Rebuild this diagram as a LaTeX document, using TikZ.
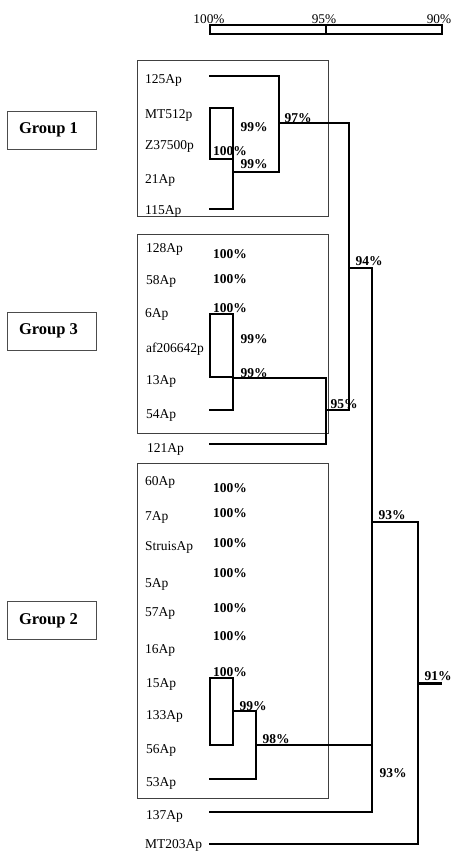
\documentclass[tikz,border=0pt]{standalone}
\usepackage{fontspec}
\setmainfont{Liberation Serif}
\begin{document}
\begin{tikzpicture}[x=1pt,y=-1pt,
  leaf/.style={anchor=base west,inner sep=0pt,font=\fontsize{13.5}{14}\selectfont},
  pct/.style={anchor=base,inner sep=0pt,font=\bfseries\fontsize{13.5}{14}\selectfont},
  sc/.style={anchor=base,inner sep=0pt,font=\fontsize{13.3}{14}\selectfont},
  grp/.style={draw=black!70,line width=0.9pt,minimum width=89pt,minimum height=38pt,inner sep=0pt,font=\bfseries\fontsize{16.5}{17}\selectfont},
  frame/.style={draw=black!75,line width=0.9pt},
  br/.style={line width=2pt,line cap=rect},
]
\useasboundingbox (0,0) rectangle (455,851);

% scale bar
\draw[line width=1.8pt] (210,25) rectangle (442,34);
\draw[line width=1.8pt] (326,25) -- (326,34);
\node[sc] (s100) at (209,23.5) {100\%};
\node[sc] (s95) at (324,23.5) {95\%};
\node[sc] (s90) at (439,23.5) {90\%};

% group label boxes
\node[grp] (g1) at (51.5,130) {\hspace*{-6pt}Group 1};
\node[grp] (g3) at (51.5,331) {\hspace*{-6pt}Group 3};
\node[grp] (g2) at (51.5,620.5) {\hspace*{-6pt}Group 2};

% frames
\draw[frame] (137,60) rectangle (328,216);
\draw[frame] (137,234) rectangle (328,433);
\draw[frame] (137,463) rectangle (328,798);

% leaves group 1
\node[leaf] (l125) at (145,84) {125Ap};
\node[leaf] (lMT512) at (145,118) {MT512p};
\node[leaf] (lZ375) at (145,149) {Z37500p};
\node[leaf] (l21) at (145,183) {21Ap};
\node[leaf] (l115) at (145,214) {115Ap};
% leaves group 3
\node[leaf] (l128) at (146,252) {128Ap};
\node[leaf] (l58) at (146,284) {58Ap};
\node[leaf] (l6) at (145,317) {6Ap};
\node[leaf] (laf) at (146,352) {af206642p};
\node[leaf] (l13) at (146,384) {13Ap};
\node[leaf] (l54) at (146,418) {54Ap};
\node[leaf] (l121) at (147,452) {121Ap};
% leaves group 2
\node[leaf] (l60) at (145,485) {60Ap};
\node[leaf] (l7) at (145,520) {7Ap};
\node[leaf] (lStr) at (145,550) {StruisAp};
\node[leaf] (l5) at (145,587) {5Ap};
\node[leaf] (l57) at (145,616) {57Ap};
\node[leaf] (l16) at (145,653) {16Ap};
\node[leaf] (l15) at (146,687) {15Ap};
\node[leaf] (l133) at (146,719) {133Ap};
\node[leaf] (l56) at (146,753) {56Ap};
\node[leaf] (l53) at (146,786) {53Ap};
\node[leaf] (l137) at (146,819) {137Ap};
\node[leaf] (lMT203) at (145,848) {MT203Ap};

% coordinates of branch points
\coordinate (a125) at (210,76);
\coordinate (j97top) at (279,76);
\coordinate (j99b) at (279,172);
\coordinate (j99a) at (233,172);
\coordinate (a115) at (210,209);
\coordinate (c115) at (233,209);
\coordinate (j97) at (279,123);
\coordinate (k97) at (349,123);
\coordinate (k95) at (349,410);
\coordinate (j95) at (326,410);
\coordinate (j94) at (349,268);
\coordinate (k94) at (372,268);
\coordinate (a54) at (210,410);
\coordinate (c54) at (233,410);
\coordinate (j99g3) at (233,378);
\coordinate (k99g3) at (326,378);
\coordinate (c121) at (326,444);
\coordinate (a121) at (210,444);
\coordinate (c137) at (372,812);
\coordinate (a137) at (210,812);
\coordinate (j99g2) at (233,711);
\coordinate (k99g2) at (256,711);
\coordinate (c53) at (256,779);
\coordinate (a53) at (210,779);
\coordinate (j98) at (256,745);
\coordinate (k98) at (372,745);
\coordinate (j93) at (372,522);
\coordinate (k93) at (418,522);
\coordinate (c203) at (418,844);
\coordinate (a203) at (210,844);
\coordinate (root) at (418,683);
\coordinate (rootend) at (442,683);

% tree group 1
\draw[br] (a125) -- (j97top) -- (j99b) -- (j99a);
\draw[br] (210,108) rectangle (233,159);
\draw[br] (233,159) -- (c115) -- (a115);
\draw[br] (j97) -- (k97) -- (k95) -- (j95);
% tree group 3
\draw[br] (210,314) rectangle (233,377);
\draw[br] (233,377) -- (c54) -- (a54);
\draw[br] (j99g3) -- (k99g3) -- (c121) -- (a121);
\draw[br] (j94) -- (k94) -- (c137) -- (a137);
% tree group 2
\draw[br] (210,678) rectangle (233,745);
\draw[br] (j99g2) -- (k99g2) -- (c53) -- (a53);
\draw[br] (j98) -- (k98);
\draw[br] (j93) -- (k93) -- (c203) -- (a203);
\draw[line width=3pt] (root) -- (rootend);

% percentages group 1
\node[pct] (p1a) at (254,131) {99\%};
\node[pct] (p1b) at (230,155) {100\%};
\node[pct] (p1c) at (254,168) {99\%};
\node[pct] (p1d) at (298,122) {97\%};
% group 3
\node[pct] (p3a) at (230,258) {100\%};
\node[pct] (p3b) at (230,283) {100\%};
\node[pct] (p3c) at (230,312) {100\%};
\node[pct] (p3d) at (254,343) {99\%};
\node[pct] (p3e) at (254,377) {99\%};
\node[pct] (p3f) at (344,408) {95\%};
\node[pct] (p3g) at (369,265) {94\%};
% group 2
\node[pct] (p2a) at (230,492) {100\%};
\node[pct] (p2b) at (230,517) {100\%};
\node[pct] (p2c) at (230,547) {100\%};
\node[pct] (p2d) at (230,577) {100\%};
\node[pct] (p2e) at (230,612) {100\%};
\node[pct] (p2f) at (230,640) {100\%};
\node[pct] (p2g) at (230,676) {100\%};
\node[pct] (p2h) at (253,710) {99\%};
\node[pct] (p2i) at (276,743) {98\%};
\node[pct] (p2j) at (392,519) {93\%};
\node[pct] (p2k) at (393,777) {93\%};
\node[pct] (p2l) at (438,680) {91\%};
\end{tikzpicture}
\end{document}
